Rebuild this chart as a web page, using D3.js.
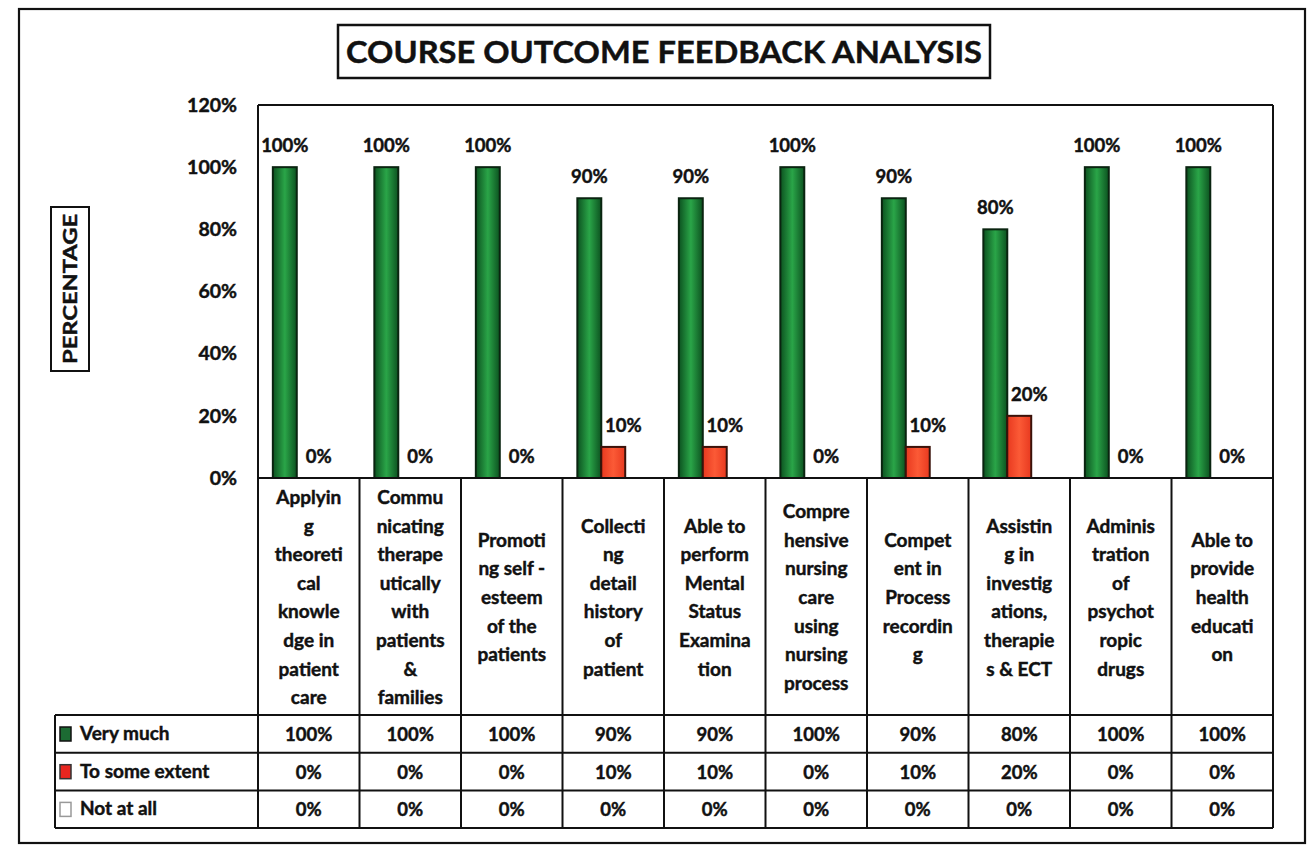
<!DOCTYPE html>
<html>
<head>
<meta charset="utf-8">
<script src="https://cdn.jsdelivr.net/npm/d3@7/dist/d3.min.js"></script>
<style>
  html, body { margin: 0; padding: 0; background: #fff; }
  svg { display: block; font-family: Lato, "Open Sans", sans-serif; font-weight: 700; }
  svg text { stroke: #111; stroke-width: 0.45px; }
</style>
</head>
<body>
<svg id="chart" width="1313" height="852"></svg>
<script>
// ---- data ----
const categories = [
  "Applying theoretical knowledge in patient care",
  "Communicating therapeutically with patients & families",
  "Promoting self - esteem of the patients",
  "Collecting detail history of patient",
  "Able to perform Mental Status Examination",
  "Comprehensive nursing care using nursing process",
  "Competent in Process recording",
  "Assisting in investigations, therapies & ECT",
  "Administration of psychotropic drugs",
  "Able to provide health education"
];
const categoryLines = [
  ["Applyin","g","theoreti","cal","knowle","dge in","patient","care"],
  ["Commu","nicating","therape","utically","with","patients","&","families"],
  ["Promoti","ng self -","esteem","of the","patients"],
  ["Collecti","ng","detail","history","of","patient"],
  ["Able to","perform","Mental","Status","Examina","tion"],
  ["Compre","hensive","nursing","care","using","nursing","process"],
  ["Compet","ent in","Process","recordin","g"],
  ["Assistin","g in","investig","ations,","therapie","s & ECT"],
  ["Adminis","tration","of","psychot","ropic","drugs"],
  ["Able to","provide","health","educati","on"]
];
const seriesNames = ["Very much", "To some extent", "Not at all"];
const veryMuch     = [1.00, 1.00, 1.00, 0.90, 0.90, 1.00, 0.90, 0.80, 1.00, 1.00];
const toSomeExtent = [0.00, 0.00, 0.00, 0.10, 0.10, 0.00, 0.10, 0.20, 0.00, 0.00];
const notAtAll     = [0.00, 0.00, 0.00, 0.00, 0.00, 0.00, 0.00, 0.00, 0.00, 0.00];
const yTicks = [0, 0.2, 0.4, 0.6, 0.8, 1.0, 1.2];
const title = "COURSE OUTCOME FEEDBACK ANALYSIS";
const yTitle = "PERCENTAGE";

const seriesValues = [veryMuch, toSomeExtent, notAtAll];

// ---- layout ----
const svg = d3.select("#chart");
svg.append("rect").attr("width", 1313).attr("height", 852).attr("fill", "#fff");

const plotLeft = 258, plotRight = 1273, plotTop = 105, plotBottom = 478;
const catBottom = 715, rowH = 37.7, tableLeft = 55;

const x0 = d3.scaleBand().domain(categories).range([plotLeft, plotRight]);
const x1 = d3.scaleBand().domain(seriesNames).range([0, x0.bandwidth()]).paddingInner(0).paddingOuter(0.62);
const y = d3.scaleLinear().domain([0, 1.2]).range([plotBottom, plotTop]);

// gradients
const defs = svg.append("defs");
const gG = defs.append("linearGradient").attr("id", "gGreen").attr("x1", "0").attr("x2", "1").attr("y1", "0").attr("y2", "0");
gG.append("stop").attr("offset", "0%").attr("stop-color", "#0c5220");
gG.append("stop").attr("offset", "50%").attr("stop-color", "#2aa548");
gG.append("stop").attr("offset", "100%").attr("stop-color", "#0c5220");
const gR = defs.append("linearGradient").attr("id", "gRed").attr("x1", "0").attr("x2", "1").attr("y1", "0").attr("y2", "0");
gR.append("stop").attr("offset", "0%").attr("stop-color", "#e8391f");
gR.append("stop").attr("offset", "50%").attr("stop-color", "#fb5a36");
gR.append("stop").attr("offset", "100%").attr("stop-color", "#e8391f");

const fills = ["url(#gGreen)", "url(#gRed)", "#ffffff"];
const strokes = ["#0a2410", "#3a120a", "#999"];

// outer frame
svg.append("rect").attr("x", 19).attr("y", 9).attr("width", 1286).attr("height", 834)
  .attr("fill", "none").attr("stroke", "#111").attr("stroke-width", 2.2);

// title
svg.append("rect").attr("x", 338).attr("y", 25).attr("width", 652).attr("height", 53)
  .attr("fill", "#fff").attr("stroke", "#111").attr("stroke-width", 2.5);
svg.append("text").attr("x", 664).attr("y", 63).attr("text-anchor", "middle")
  .attr("font-size", 31).attr("fill", "#111")
  .attr("textLength", 636).attr("lengthAdjust", "spacingAndGlyphs")
  .text(title);

// y title
svg.append("rect").attr("x", 51).attr("y", 207).attr("width", 38).attr("height", 164)
  .attr("fill", "#fff").attr("stroke", "#111").attr("stroke-width", 2);
svg.append("text").attr("transform", "translate(77,289) rotate(-90)").attr("text-anchor", "middle")
  .attr("font-size", 19).attr("fill", "#111")
  .attr("textLength", 150).attr("lengthAdjust", "spacingAndGlyphs")
  .text(yTitle);

// y axis
const yAxis = d3.axisLeft(y).tickValues(yTicks).tickFormat(d3.format(".0%")).tickSize(0).tickPadding(21);
const ya = svg.append("g").attr("transform", `translate(${plotLeft},0)`).call(yAxis);
ya.select(".domain").remove();
ya.selectAll("text").attr("font-size", 19.5).attr("font-family", "Lato, sans-serif").attr("font-weight", 700).attr("fill", "#111");

// bars
const gBars = svg.append("g");
seriesNames.forEach((s, si) => {
  gBars.selectAll(".bar" + si)
    .data(categories.map((c, i) => ({ c, v: seriesValues[si][i] })))
    .join("rect")
    .attr("x", d => x0(d.c) + x1(s))
    .attr("y", d => y(d.v))
    .attr("width", x1.bandwidth())
    .attr("height", d => y(0) - y(d.v))
    .attr("fill", fills[si])
    .attr("stroke", d => d.v > 0 ? strokes[si] : "none")
    .attr("stroke-width", 2);
});

// value labels (first two series)
[0, 1].forEach(si => {
  const s = seriesNames[si];
  svg.append("g").selectAll("text")
    .data(categories.map((c, i) => ({ c, v: seriesValues[si][i] })))
    .join("text")
    .attr("x", d => x0(d.c) + x1(s) + x1.bandwidth() / 2 + (si === 1 ? 10 : 0))
    .attr("y", d => y(d.v) - 15)
    .attr("text-anchor", "middle")
    .attr("font-size", 18.5).attr("fill", "#111")
    .text(d => d3.format(".0%")(d.v));
});

// plot area frame
const line = (x1_, y1_, x2_, y2_, w) => svg.append("line")
  .attr("x1", x1_).attr("y1", y1_).attr("x2", x2_).attr("y2", y2_)
  .attr("stroke", "#111").attr("stroke-width", w || 2);
line(plotLeft, plotTop, plotRight, plotTop);
line(plotRight, plotTop, plotRight, plotBottom + 3 * rowH + (catBottom - plotBottom));
line(plotLeft, plotTop, plotLeft, catBottom + 3 * rowH);
line(plotLeft, plotBottom, plotRight, plotBottom);

// category cells
const tableBottom = catBottom + 3 * rowH;
categories.forEach((c, i) => {
  if (i > 0) line(x0(c), plotBottom, x0(c), tableBottom);
  const lines = categoryLines[i];
  const lh = 28.6;
  const cy = 598;
  const t = svg.append("text").attr("text-anchor", "middle").attr("font-size", 19).attr("fill", "#111");
  lines.forEach((ln, k) => {
    t.append("tspan").attr("x", x0(c) + x0.bandwidth() / 2)
      .attr("y", cy + (k - (lines.length - 1) / 2) * lh + 6)
      .text(ln);
  });
});

// table rows
for (let r = 0; r <= 3; r++) line(tableLeft, catBottom + r * rowH, plotRight, catBottom + r * rowH);
line(tableLeft, catBottom, tableLeft, tableBottom);

const keyFill = ["#1c6b33", "#e8261f", "#ffffff"];
const keyStroke = ["#111", "#333", "#999"];
seriesNames.forEach((s, si) => {
  const ry = catBottom + si * rowH;
  svg.append("rect").attr("x", 60).attr("y", ry + 12).attr("width", 11).attr("height", 14)
    .attr("fill", keyFill[si]).attr("stroke", keyStroke[si]).attr("stroke-width", 1.5);
  svg.append("text").attr("x", 80).attr("y", ry + 25).attr("font-size", 19).attr("fill", "#111").text(s);
  svg.append("g").selectAll("text")
    .data(categories.map((c, i) => ({ c, v: seriesValues[si][i] })))
    .join("text")
    .attr("x", d => x0(d.c) + x0.bandwidth() / 2)
    .attr("y", ry + 26)
    .attr("text-anchor", "middle").attr("font-size", 18.5).attr("fill", "#111")
    .text(d => d3.format(".0%")(d.v));
});
</script>
</body>
</html>
